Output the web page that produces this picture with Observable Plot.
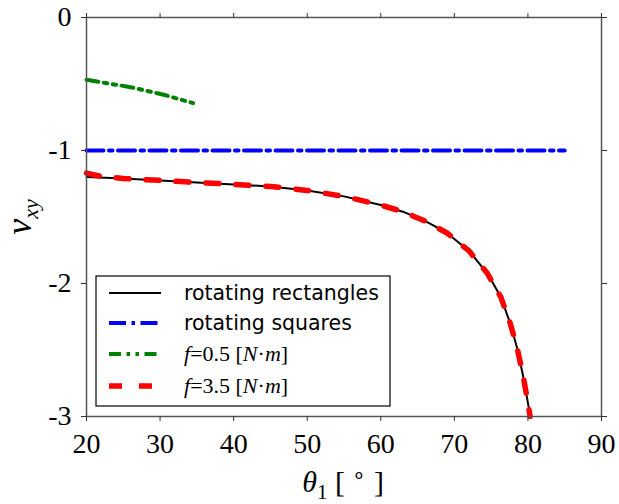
<!DOCTYPE html>
<html>
<head>
<meta charset="utf-8">
<script src="https://cdn.jsdelivr.net/npm/d3@7"></script>
<script src="https://cdn.jsdelivr.net/npm/@observablehq/plot@0.6"></script>
<style>
  html, body { margin: 0; padding: 0; background: #fff; }
  #chart svg g[aria-label$="tick label"] text { font-family: 'Liberation Serif', serif !important; font-variant: normal !important; font-variant-numeric: normal !important; }
</style>
</head>
<body>
<div id="chart"></div>
<script>
// ---- data ----
const xTicks = [20, 30, 40, 50, 60, 70, 80, 90];
const yTicks = [0, -1, -2, -3];

// rotating rectangles (black solid)
const rectTheta = [20, 25, 30, 35, 40, 45, 50, 55, 60, 63, 66, 69, 72, 74.5, 76.3, 77.6, 78.6, 79.4, 80.1, 80.3];
const rectNu    = [-1.20, -1.21, -1.225, -1.24, -1.255, -1.27, -1.30, -1.345, -1.41, -1.46, -1.53, -1.62, -1.755, -1.925, -2.10, -2.30, -2.50, -2.71, -2.93, -3.0];

// rotating squares (blue dash-dot)
const sqTheta = [20, 85];
const sqNu    = [-1, -1];

// f = 0.5 (green dash-dot-dot)
const f05Theta = [20, 26, 30.5, 34.5];
const f05Nu    = [-0.468, -0.524, -0.581, -0.644];

// f = 3.5 (red dashed)
const f35Theta = [20, 22, 25, 30, 35, 40, 45, 50, 55, 60, 63, 66, 69, 72, 74.5, 76.3, 77.6, 78.6, 79.4, 80.1, 80.3];
const f35Nu    = [-1.17, -1.195, -1.21, -1.225, -1.24, -1.255, -1.27, -1.30, -1.345, -1.41, -1.46, -1.53, -1.62, -1.755, -1.925, -2.10, -2.30, -2.50, -2.71, -2.93, -3.0];

const legendLabels = ["rotating rectangles", "rotating squares", "0.5", "3.5"];

// ---- build tables ----
const zip = (xs, ys) => xs.map((x, i) => ({x, y: ys[i]}));
const rect = zip(rectTheta, rectNu);
const sq = zip(sqTheta, sqNu);
const f05 = zip(f05Theta, f05Nu);
const f35 = zip(f35Theta, f35Nu);

const styles = {
  rect: {stroke: "#000000", strokeWidth: 2},
  sq:   {stroke: "#0000ff", strokeWidth: 4, strokeDasharray: "17,5.5,3.5,5.5"},
  f05:  {stroke: "#008000", strokeWidth: 4, strokeDasharray: "12,5.5,3.5,5.5,3.5,5.5"},
  f35:  {stroke: "#ff0000", strokeWidth: 5.5, strokeDasharray: "13,17"}
};

const serif = "Liberation Serif";

const svg = Plot.plot({
  width: 619,
  height: 504,
  marginLeft: 86,
  marginRight: 18,
  marginTop: 17,
  marginBottom: 88,
  style: {background: "#fff", color: "#000"},
  x: {domain: [20, 90]},
  y: {domain: [-3, 0]},
  marks: [
    Plot.line(rect, {x: "x", y: "y", ...styles.rect}),
    Plot.line(sq,   {x: "x", y: "y", ...styles.sq}),
    Plot.line(f05,  {x: "x", y: "y", ...styles.f05}),
    Plot.line(f35,  {x: "x", y: "y", ...styles.f35}),
    Plot.frame({stroke: "#555", strokeWidth: 1.5}),
    Plot.axisX({anchor: "bottom", ticks: xTicks, tickSize: 5, tickPadding: 12, fontSize: 28, fontFamily: serif, fontVariant: "normal", label: null, stroke: "#333", tickFormat: d => String(d)}),
    Plot.axisX({anchor: "top", ticks: xTicks, tickSize: 5, label: null, stroke: "#333", tickFormat: () => ""}),
    Plot.axisY({anchor: "left", ticks: yTicks, tickSize: 5, tickPadding: 10, fontSize: 28, fontFamily: serif, fontVariant: "normal", label: null, stroke: "#333", tickFormat: d => String(d)}),
    Plot.axisY({anchor: "right", ticks: yTicks, tickSize: 5, label: null, stroke: "#333", tickFormat: () => ""})
  ]
});

const s = d3.select(svg);
s.attr("font-family", serif);
s.selectAll("g").attr("font-variant", null);
s.selectAll("text").style("font-family", serif).style("font-variant", "normal");

// x label: θ1 [°]
const xl = s.append("text")
  .attr("x", 343).attr("y", 492)
  .style("text-anchor", "middle")
  .style("font-family", serif)
  .style("font-size", "30px")
  .attr("fill", "#000");
xl.append("tspan").style("font-style", "italic").text("θ");
xl.append("tspan").style("font-size", "21px").attr("dy", 7).text("1");
xl.append("tspan").attr("dy", -7).text(" [ ");
xl.append("tspan").style("font-size", "22px").attr("dy", -10).text("∘");
xl.append("tspan").attr("dy", 10).text(" ]");

// y label: ν_xy
const yl = s.append("text")
  .attr("transform", "translate(31,217) rotate(-90)")
  .style("text-anchor", "middle")
  .style("font-family", serif)
  .style("font-size", "36px")
  .attr("fill", "#000");
yl.append("tspan").style("font-style", "italic").text("ν");
yl.append("tspan").style("font-style", "italic").style("font-size", "22px").attr("dy", 7).text("xy");

// legend
const lg = s.append("g");
lg.append("rect").attr("x", 96).attr("y", 276).attr("width", 294).attr("height", 130)
  .attr("fill", "#fff").attr("stroke", "#000").attr("stroke-width", 1.2);
const rows = [
  {y: 293, st: styles.rect, label: legendLabels[0], math: false},
  {y: 323, st: styles.sq, label: legendLabels[1], math: false},
  {y: 354, st: styles.f05, label: legendLabels[2], math: true},
  {y: 386, st: styles.f35, label: legendLabels[3], math: true}
];
rows.forEach(r => {
  lg.append("line").attr("x1", 109).attr("x2", 161).attr("y1", r.y).attr("y2", r.y)
    .attr("stroke", r.st.stroke).attr("stroke-width", r.st.strokeWidth)
    .attr("stroke-dasharray", r.st.strokeDasharray || null);
  if (!r.math) {
    lg.append("text").attr("x", 184).attr("y", r.y + 7)
      .style("text-anchor", "start")
      .style("font-family", "'DejaVu Sans', sans-serif").style("font-size", "20.5px")
      .attr("fill", "#000").text(r.label);
  } else {
    const t = lg.append("text").attr("x", 184).attr("y", r.y + 7)
      .style("text-anchor", "start")
      .style("font-family", serif).style("font-size", "22px").attr("fill", "#000");
    t.append("tspan").style("font-style", "italic").text("f");
    t.append("tspan").text("=" + r.label + " [");
    t.append("tspan").style("font-style", "italic").text("N");
    t.append("tspan").text("·");
    t.append("tspan").style("font-style", "italic").text("m");
    t.append("tspan").text("]");
  }
});

document.getElementById("chart").appendChild(svg);
</script>
</body>
</html>
